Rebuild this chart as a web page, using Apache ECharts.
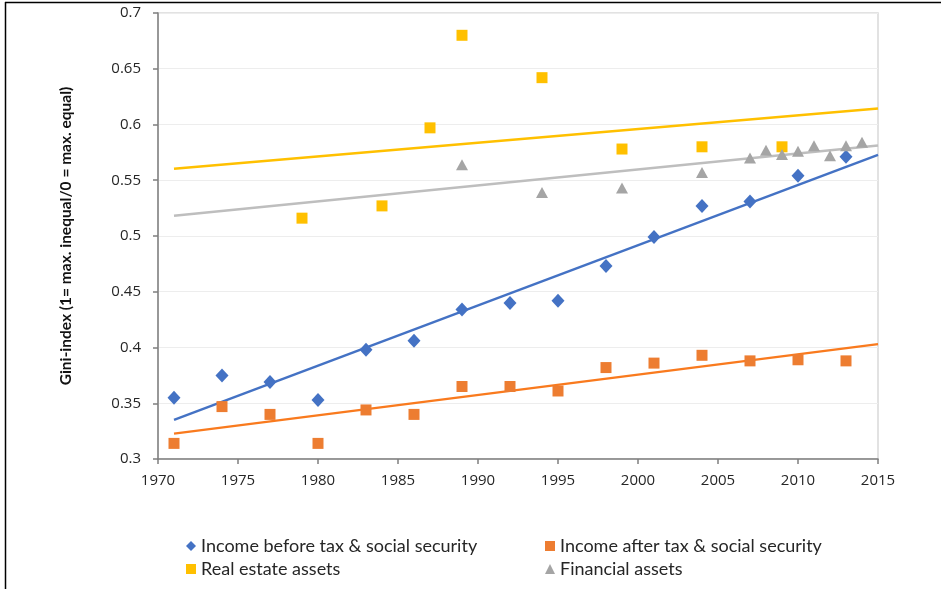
<!DOCTYPE html>
<html>
<head>
<meta charset="utf-8">
<script src="https://cdn.jsdelivr.net/npm/echarts@6/dist/echarts.min.js"></script>
<style>
  html, body { margin: 0; padding: 0; background: #fff; }
  #chart { width: 941px; height: 589px; }
</style>
</head>
<body>
<div id="chart"></div>
<script>
// Gini index by year for four distributions
const yearsIncome = [1971, 1974, 1977, 1980, 1983, 1986, 1989, 1992, 1995, 1998, 2001, 2004, 2007, 2010, 2013];
const incomeBefore = [0.355, 0.375, 0.369, 0.353, 0.398, 0.406, 0.434, 0.440, 0.442, 0.473, 0.499, 0.527, 0.531, 0.554, 0.571];
const incomeAfter  = [0.314, 0.347, 0.340, 0.314, 0.344, 0.340, 0.365, 0.365, 0.361, 0.382, 0.386, 0.393, 0.388, 0.389, 0.388];

const yearsRealEstate = [1979, 1984, 1987, 1989, 1994, 1999, 2004, 2009];
const realEstate = [0.516, 0.527, 0.597, 0.680, 0.642, 0.578, 0.580, 0.580];

const yearsFinancial = [1989, 1994, 1999, 2004, 2007, 2008, 2009, 2010, 2011, 2012, 2013, 2014];
const financial = [0.564, 0.539, 0.543, 0.557, 0.570, 0.577, 0.573, 0.576, 0.581, 0.572, 0.581, 0.584];

const seriesNames = [
  'Income before tax & social security',
  'Income after tax & social security',
  'Real estate assets',
  'Financial assets'
];
const trendRange = [1971, 2015];
const xTicks = [1970, 2015, 5];
const yTicks = [0.3, 0.7, 0.05];

// least-squares linear trend, evaluated at both ends of trendRange
function trend(xs, ys) {
  const n = xs.length;
  const mx = xs.reduce((a, b) => a + b, 0) / n;
  const my = ys.reduce((a, b) => a + b, 0) / n;
  let sxy = 0, sxx = 0;
  for (let i = 0; i < n; i++) {
    sxy += (xs[i] - mx) * (ys[i] - my);
    sxx += (xs[i] - mx) * (xs[i] - mx);
  }
  const b = sxy / sxx;
  const a = my - b * mx;
  return trendRange.map(x => [x, a + b * x]);
}
const pairs = (xs, ys) => xs.map((x, i) => [x, ys[i]]);

const colors = {
  blue: '#4472C4',
  orange: '#ED7D31',
  yellow: '#FFC000',
  gray: '#A5A5A5'
};
const lineColors = ['#4472C4', '#F97A1E', '#FFC000', '#BEBEBE'];

function trendSeries(data, color) {
  return {
    type: 'line',
    data: data,
    symbol: 'none',
    silent: true,
    lineStyle: { color: color, width: 2.4 },
    z: 2
  };
}

const textFont = 'Lato';
const chart = echarts.init(document.getElementById('chart'), null, { renderer: 'canvas' });

const legendCommon = {
  orient: 'vertical', top: 532, itemGap: 5,
  itemWidth: 10, itemHeight: 10,
  textStyle: { color: '#262626', fontSize: 18, fontFamily: textFont }
};

chart.setOption({
  animation: false,
  backgroundColor: '#fff',
  grid: {
    left: 158, right: 63, top: 13, bottom: 130,
    show: true, borderColor: '#D9D9D9', borderWidth: 1.5
  },
  xAxis: {
    type: 'value',
    min: xTicks[0], max: xTicks[1], interval: xTicks[2],
    axisLine: { lineStyle: { color: '#7F7F7F', width: 1.5 } },
    axisTick: { show: true, length: 5, lineStyle: { color: '#7F7F7F', width: 1.5 } },
    axisLabel: { color: '#262626', fontSize: 15, fontFamily: 'Open Sans', margin: 14,
      formatter: v => String(v) },
    splitLine: { show: false }
  },
  yAxis: {
    type: 'value',
    min: yTicks[0], max: yTicks[1], interval: yTicks[2],
    name: 'Gini-index (1= max. inequal/0 = max. equal)',
    nameLocation: 'middle',
    nameGap: 84,
    nameTextStyle: { color: '#111', fontSize: 15.5, fontWeight: 'bold', fontFamily: textFont },
    axisLine: { show: true, lineStyle: { color: '#7F7F7F', width: 1.5 } },
    axisTick: { show: true, length: 5, lineStyle: { color: '#7F7F7F', width: 1.5 } },
    axisLabel: { color: '#262626', fontSize: 15, fontFamily: 'Open Sans', margin: 17,
      formatter: v => String(Math.round(v * 100) / 100) },
    splitLine: { show: true, lineStyle: { color: '#EDEDED', width: 1 } }
  },
  legend: [
    Object.assign({}, legendCommon, {
      left: 181,
      data: [
        { name: seriesNames[0], icon: 'diamond' },
        { name: seriesNames[2], icon: 'rect' }
      ]
    }),
    Object.assign({}, legendCommon, {
      left: 540,
      data: [
        { name: seriesNames[1], icon: 'rect' },
        { name: seriesNames[3], icon: 'triangle' }
      ]
    })
  ],
  series: [
    trendSeries(trend(yearsIncome, incomeBefore), lineColors[0]),
    trendSeries(trend(yearsIncome, incomeAfter), lineColors[1]),
    trendSeries(trend(yearsRealEstate, realEstate), lineColors[2]),
    trendSeries(trend(yearsFinancial, financial), lineColors[3]),
    {
      name: seriesNames[0], type: 'scatter', symbol: 'diamond', symbolSize: [13, 14],
      itemStyle: { color: colors.blue, opacity: 1 }, data: pairs(yearsIncome, incomeBefore), z: 5
    },
    {
      name: seriesNames[1], type: 'scatter', symbol: 'rect', symbolSize: 11,
      itemStyle: { color: colors.orange, opacity: 1 }, data: pairs(yearsIncome, incomeAfter), z: 5
    },
    {
      name: seriesNames[2], type: 'scatter', symbol: 'rect', symbolSize: 11,
      itemStyle: { color: colors.yellow, opacity: 1 }, data: pairs(yearsRealEstate, realEstate), z: 5
    },
    {
      name: seriesNames[3], type: 'scatter', symbol: 'triangle', symbolSize: [12, 11],
      itemStyle: { color: colors.gray, opacity: 1 }, data: pairs(yearsFinancial, financial), z: 5
    }
  ],
  graphic: [
    // outer frame: top and left edges
    { type: 'line', shape: { x1: 5, y1: 2.5, x2: 941, y2: 2.5 }, style: { stroke: '#000', lineWidth: 1.5 }, silent: true },
    { type: 'line', shape: { x1: 5.5, y1: 2, x2: 5.5, y2: 589 }, style: { stroke: '#000', lineWidth: 1.5 }, silent: true }
  ]
});
</script>
</body>
</html>
